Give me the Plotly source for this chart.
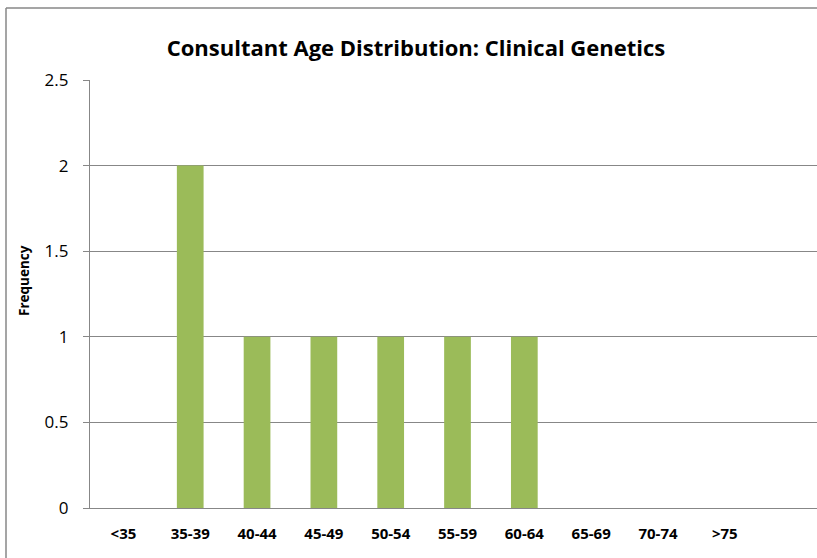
import plotly.graph_objects as go

# Age bands and consultant counts
age_bands = ["<35", "35-39", "40-44", "45-49", "50-54", "55-59", "60-64", "65-69", "70-74", ">75"]
frequency = [0, 2, 1, 1, 1, 1, 1, 0, 0, 0]
y_ticks = [0, 0.5, 1, 1.5, 2, 2.5]
y_tick_text = ["0", "0.5", "1", "1.5", "2", "2.5"]

axis_grey = "#878787"
font_family = "'Open Sans', sans-serif"

W, H = 817, 558
L, T, B = 90, 80, 50
plot_w = W - L
plot_h = H - T - B

fig = go.Figure(go.Bar(
    x=age_bands,
    y=frequency,
    width=0.4,
    marker=dict(color="#9BBB59", line=dict(width=0)),
    hovertemplate="%{x}: %{y}<extra></extra>",
))

fig.update_layout(
    width=W,
    height=H,
    margin=dict(l=L, r=0, t=T, b=B),
    paper_bgcolor="white",
    plot_bgcolor="white",
    showlegend=False,
    font=dict(family=font_family, color="black"),
    title=dict(
        text="<b>Consultant Age Distribution: Clinical Genetics</b>",
        x=416 / W, xanchor="center",
        y=1 - 48 / H, yanchor="middle",
        font=dict(size=22, family=font_family, color="black"),
    ),
    xaxis=dict(
        type="category",
        range=[-0.5, 10.38],
        showgrid=False,
        showline=True,
        linecolor=axis_grey,
        linewidth=1.3,
        ticks="",
        tickfont=dict(size=15, family=font_family, color="black", weight="bold"),
        ticklabelstandoff=12,
        fixedrange=True,
    ),
    yaxis=dict(
        range=[0, 2.5],
        tickvals=y_ticks,
        ticktext=y_tick_text,
        showgrid=True,
        gridcolor=axis_grey,
        gridwidth=1.3,
        showline=True,
        linecolor=axis_grey,
        linewidth=1.3,
        ticks="outside",
        ticklen=6,
        tickcolor=axis_grey,
        tickwidth=1.3,
        tickfont=dict(size=17, family=font_family, color="black"),
        ticklabelstandoff=11,
        zeroline=False,
        fixedrange=True,
    ),
)

# y-axis title placed by hand so it sits where the original does
fig.add_annotation(
    text="<b>Frequency</b>",
    xref="paper", yref="paper",
    x=(24 - L) / plot_w, y=(T + plot_h - 281) / plot_h,
    xanchor="center", yanchor="middle",
    textangle=-90,
    showarrow=False,
    font=dict(size=13.5, family=font_family, color="black"),
)

# outer chart border: only the top and left edges are inside the picture
border_left = (6 - L) / plot_w
border_top = (T + plot_h - 8) / plot_h
fig.add_shape(type="line", xref="paper", yref="paper",
              x0=border_left, y0=-0.3, x1=border_left, y1=border_top,
              line=dict(color=axis_grey, width=1.5))
fig.add_shape(type="line", xref="paper", yref="paper",
              x0=border_left, y0=border_top, x1=1.5, y1=border_top,
              line=dict(color=axis_grey, width=1.5))

# drop the default page margin so the figure fills the window exactly
fig.write_html(
    "out.html",
    config={"displayModeBar": False},
    post_script="document.body.style.margin='0';document.body.style.overflow='hidden';",
)
